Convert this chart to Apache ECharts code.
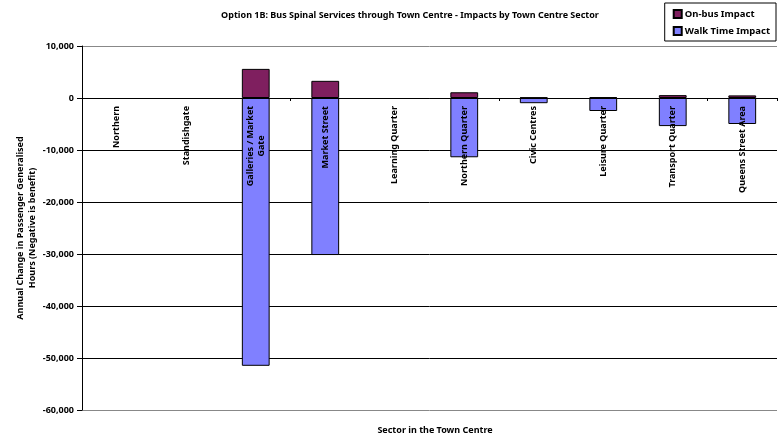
<!DOCTYPE html>
<html><head><meta charset="utf-8">
<script src="https://cdn.jsdelivr.net/npm/echarts@6/dist/echarts.min.js"></script>
<style>html,body{margin:0;padding:0;background:#fff}#c{width:779px;height:439px}</style>
</head><body><div id="c"></div>
<script>
const categories = ["Northern", "Standishgate", "Galleries / Market\nGate", "Market Street", "Learning Quarter", "Northern Quarter", "Civic Centres", "Leisure Quarter", "Transport Quarter", "Queens Street Area"];
const onBusImpact = [null, null, 5600, 3300, null, 1100, 100, 150, 550, 500];
const walkTimeImpact = [null, null, -51500, -30200, null, -11400, -1000, -2500, -5400, -5000];
const yTicks = [-60000, -50000, -40000, -30000, -20000, -10000, 0, 10000];

const FONT = "'Noto Sans', 'Open Sans', sans-serif";
const ctx = document.createElement('canvas').getContext('2d');
ctx.font = "bold 9px " + FONT;
// multi-line labels: centre the lines among themselves, keep the block's end at the axis
const labelData = categories.map(c => {
  if (!c.includes('\n')) return c;
  const maxW = Math.max(...c.split('\n').map(s => ctx.measureText(s).width));
  return {value: c, textStyle: {align: 'center', padding: [0, Math.round(maxW), 0, 0]}};
});

const chart = echarts.init(document.getElementById('c'));
chart.setOption({
  animation: false,
  textStyle: {fontFamily: FONT},
  title: [
    {text: "Option 1B: Bus Spinal Services through Town Centre - Impacts by Town Centre Sector",
     left: 405, top: 6, textAlign: 'center',
     textStyle: {fontSize: 9, fontWeight: 'bold', color: '#000', fontFamily: FONT}},
    {text: "Sector in the Town Centre", left: 430, top: 421, textAlign: 'center',
     textStyle: {fontSize: 9, fontWeight: 'bold', color: '#000', fontFamily: FONT}}
  ],
  legend: {
    orient: 'vertical', right: 3, top: 3,
    data: ['On-bus Impact', 'Walk Time Impact'],
    icon: 'rect', itemWidth: 8, itemHeight: 8, itemGap: 7,
    borderColor: '#000', borderWidth: 1, padding: [6, 6, 5, 8],
    textStyle: {fontSize: 9.5, fontWeight: 'bold', color: '#000', fontFamily: FONT, padding: [0, 0, 0, -2]}
  },
  grid: {left: 82, right: 2, top: 46, bottom: 29, containLabel: false, outerBoundsMode: 'none'},
  xAxis: [{
    type: 'category', data: categories,
    axisLine: {onZero: true, lineStyle: {color: '#000', width: 1}},
    axisTick: {show: true, length: 3, lineStyle: {color: '#000'}},
    axisLabel: {show: false}
  }, {
    type: 'category', data: labelData, position: 'bottom', offset: -312, z: 10,
    axisLine: {show: false, onZero: false}, axisTick: {show: false}, splitLine: {show: false},
    axisLabel: {rotate: 90, margin: 8, interval: 0, fontSize: 9, fontWeight: 'bold', color: '#000', fontFamily: FONT, lineHeight: 11}
  }],
  yAxis: {
    type: 'value', min: -60000, max: 10000, interval: 10000,
    name: "Annual Change in Passenger Generalised\nHours (Negative is benefit)",
    nameLocation: 'middle', nameGap: 44, nameMoveOverlap: false,
    nameTextStyle: {fontSize: 9, fontWeight: 'bold', color: '#000', fontFamily: FONT, lineHeight: 12},
    axisLine: {show: true, lineStyle: {color: '#000'}},
    axisTick: {show: true, length: 5, lineStyle: {color: '#000'}},
    axisLabel: {fontSize: 9, fontWeight: 'bold', color: '#000', margin: 8, fontFamily: FONT,
      formatter: v => (yTicks.includes(v) ? v.toLocaleString('en-US') : '')},
    splitLine: {show: true, lineStyle: {color: ['#888', '#000', '#000', '#000', '#000', '#000', '#000', '#888'], width: 1}}
  },
  series: [
    {name: 'Walk Time Impact', type: 'bar', stack: 's', data: walkTimeImpact, barWidth: '40%',
     itemStyle: {color: '#8080FF', borderColor: '#000', borderWidth: 1}},
    {name: 'On-bus Impact', type: 'bar', stack: 's', data: onBusImpact, barWidth: '40%',
     itemStyle: {color: '#7F1F5F', borderColor: '#000', borderWidth: 1}}
  ]
});
</script></body></html>
